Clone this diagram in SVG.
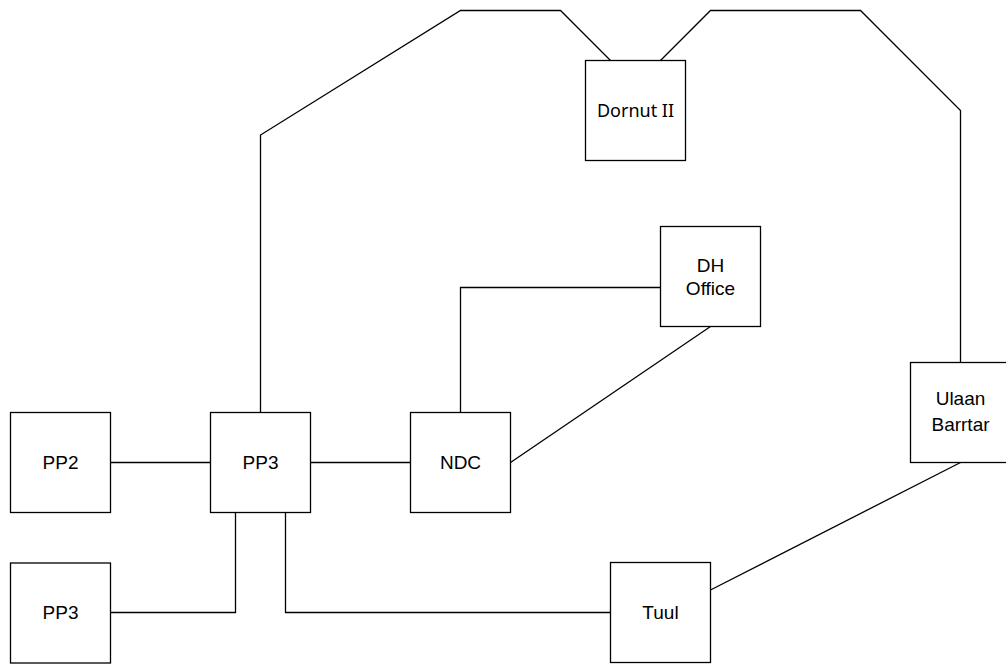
<svg xmlns="http://www.w3.org/2000/svg" width="1006" height="664" viewBox="0 0 1006 664">
<style>
.box{fill:#fff;stroke:#000;stroke-width:1.3}
.lbl{font-family:"Liberation Sans",Arial,sans-serif;font-size:19px;fill:#000;text-anchor:middle}
.lblj{font-family:"Noto Sans","Noto Sans CJK JP",sans-serif;font-size:18px;fill:#000;text-anchor:middle}
.c{fill:none;stroke:#000;stroke-width:1.3}
</style>
<rect width="1006" height="664" fill="#fff"/>
<g id="connectors">
<path class="c" d="M110.5,462.5H210.5"/>
<path class="c" d="M310.5,462.5H410.5"/>
<path class="c" d="M235.5,512.5V612.5H110.5"/>
<path class="c" d="M285.5,512.5V612.5H610.5"/>
<path class="c" d="M260.5,412.5V135L460.5,10.5H560.5L610.5,60.5"/>
<path class="c" d="M660.5,60.5L710.5,10.5H860.5L960.5,110.5V362.5"/>
<path class="c" d="M460.5,412.5V287.5H660.5"/>
<path class="c" d="M710.5,326.5L510.5,462.5"/>
<path class="c" d="M960.5,462.5L710.5,590"/>
</g>
<g id="pp2"><rect class="box" x="10.5" y="412.5" width="100" height="100"/><text class="lbl" x="60.5" y="469">PP2</text></g>
<g id="pp3"><rect class="box" x="210.5" y="412.5" width="100" height="100"/><text class="lbl" x="260.5" y="469">PP3</text></g>
<g id="pp3b"><rect class="box" x="10.5" y="563" width="100" height="100"/><text class="lbl" x="60.5" y="619">PP3</text></g>
<g id="ndc"><rect class="box" x="410.5" y="412.5" width="100" height="100"/><text class="lbl" x="460.5" y="469">NDC</text></g>
<g id="dh"><rect class="box" x="660.5" y="226.5" width="100" height="100"/><text class="lbl" x="710.5" y="272">DH</text><text class="lbl" x="710.5" y="294.5">Office</text></g>
<g id="ulaan"><rect class="box" x="910.5" y="362.5" width="100" height="100"/><text class="lbl" x="960.5" y="404.5">Ulaan</text><text class="lbl" x="960.5" y="431">Barrtar</text></g>
<g id="tuul"><rect class="box" x="610.5" y="562.5" width="100" height="100"/><text class="lbl" x="660.5" y="619">Tuul</text></g>
<g id="dornut"><rect class="box" x="585.5" y="60.5" width="100" height="100"/><text class="lblj" x="635.5" y="116.5">Dornut II</text></g>
</svg>
